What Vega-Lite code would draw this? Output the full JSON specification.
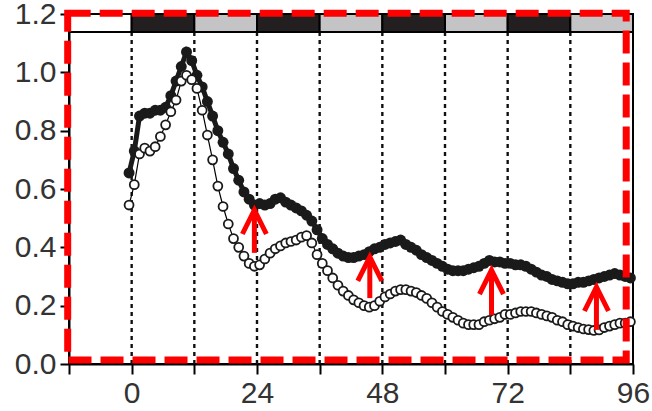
{
  "$schema": "https://vega.github.io/schema/vega-lite/v6.json",
  "width": 564,
  "height": 350,
  "autosize": {"type": "none"},
  "padding": {"left": 69, "top": 14, "right": 19, "bottom": 47},
  "background": "white",
  "config": {"view": {"stroke": "black", "strokeWidth": 2}},
  "datasets": {
    "series": [
      {"t": -0.5, "a": 0.655, "b": 0.545}, {"t": 0.5, "a": 0.73, "b": 0.615}, {"t": 1.5, "a": 0.85, "b": 0.72},
      {"t": 2.5, "a": 0.86, "b": 0.74}, {"t": 3.5, "a": 0.86, "b": 0.73}, {"t": 4.5, "a": 0.87, "b": 0.745},
      {"t": 5.5, "a": 0.87, "b": 0.78}, {"t": 6.5, "a": 0.88, "b": 0.82}, {"t": 7.5, "a": 0.92, "b": 0.865},
      {"t": 8.5, "a": 0.97, "b": 0.905}, {"t": 9.5, "a": 1.02, "b": 0.97}, {"t": 10.5, "a": 1.07, "b": 0.99},
      {"t": 11.5, "a": 1.04, "b": 0.975}, {"t": 12.5, "a": 0.99, "b": 0.945}, {"t": 13.5, "a": 0.95, "b": 0.87},
      {"t": 14.5, "a": 0.9, "b": 0.785}, {"t": 15.5, "a": 0.85, "b": 0.7}, {"t": 16.5, "a": 0.8, "b": 0.61},
      {"t": 17.5, "a": 0.76, "b": 0.54}, {"t": 18.5, "a": 0.72, "b": 0.48}, {"t": 19.5, "a": 0.67, "b": 0.43},
      {"t": 20.5, "a": 0.63, "b": 0.4}, {"t": 21.5, "a": 0.59, "b": 0.37}, {"t": 22.5, "a": 0.565, "b": 0.345},
      {"t": 23.5, "a": 0.545, "b": 0.335}, {"t": 24.5, "a": 0.55, "b": 0.34}, {"t": 25.5, "a": 0.545, "b": 0.36},
      {"t": 26.5, "a": 0.55, "b": 0.38}, {"t": 27.5, "a": 0.565, "b": 0.395}, {"t": 28.5, "a": 0.57, "b": 0.405},
      {"t": 29.5, "a": 0.555, "b": 0.415}, {"t": 30.5, "a": 0.545, "b": 0.42}, {"t": 31.5, "a": 0.535, "b": 0.425},
      {"t": 32.5, "a": 0.525, "b": 0.435}, {"t": 33.5, "a": 0.51, "b": 0.44}, {"t": 34.5, "a": 0.49, "b": 0.415},
      {"t": 35.5, "a": 0.46, "b": 0.375}, {"t": 36.5, "a": 0.43, "b": 0.345}, {"t": 37.5, "a": 0.41, "b": 0.32},
      {"t": 38.5, "a": 0.395, "b": 0.295}, {"t": 39.5, "a": 0.38, "b": 0.27}, {"t": 40.5, "a": 0.37, "b": 0.25},
      {"t": 41.5, "a": 0.365, "b": 0.235}, {"t": 42.5, "a": 0.365, "b": 0.22}, {"t": 43.5, "a": 0.37, "b": 0.21},
      {"t": 44.5, "a": 0.375, "b": 0.2}, {"t": 45.5, "a": 0.385, "b": 0.195}, {"t": 46.5, "a": 0.395, "b": 0.2},
      {"t": 47.5, "a": 0.4, "b": 0.215}, {"t": 48.5, "a": 0.41, "b": 0.23}, {"t": 49.5, "a": 0.415, "b": 0.24},
      {"t": 50.5, "a": 0.42, "b": 0.25}, {"t": 51.5, "a": 0.425, "b": 0.255}, {"t": 52.5, "a": 0.41, "b": 0.255},
      {"t": 53.5, "a": 0.4, "b": 0.25}, {"t": 54.5, "a": 0.39, "b": 0.245}, {"t": 55.5, "a": 0.375, "b": 0.235},
      {"t": 56.5, "a": 0.365, "b": 0.225}, {"t": 57.5, "a": 0.355, "b": 0.21}, {"t": 58.5, "a": 0.345, "b": 0.195},
      {"t": 59.5, "a": 0.335, "b": 0.18}, {"t": 60.5, "a": 0.325, "b": 0.17}, {"t": 61.5, "a": 0.32, "b": 0.16},
      {"t": 62.5, "a": 0.32, "b": 0.15}, {"t": 63.5, "a": 0.32, "b": 0.14}, {"t": 64.5, "a": 0.325, "b": 0.135},
      {"t": 65.5, "a": 0.33, "b": 0.135}, {"t": 66.5, "a": 0.335, "b": 0.135}, {"t": 67.5, "a": 0.345, "b": 0.145},
      {"t": 68.5, "a": 0.355, "b": 0.15}, {"t": 69.5, "a": 0.35, "b": 0.155}, {"t": 70.5, "a": 0.35, "b": 0.16},
      {"t": 71.5, "a": 0.345, "b": 0.17}, {"t": 72.5, "a": 0.345, "b": 0.17}, {"t": 73.5, "a": 0.34, "b": 0.175},
      {"t": 74.5, "a": 0.34, "b": 0.18}, {"t": 75.5, "a": 0.335, "b": 0.18}, {"t": 76.5, "a": 0.325, "b": 0.18},
      {"t": 77.5, "a": 0.315, "b": 0.175}, {"t": 78.5, "a": 0.305, "b": 0.17}, {"t": 79.5, "a": 0.3, "b": 0.165},
      {"t": 80.5, "a": 0.29, "b": 0.16}, {"t": 81.5, "a": 0.285, "b": 0.15}, {"t": 82.5, "a": 0.28, "b": 0.145},
      {"t": 83.5, "a": 0.275, "b": 0.135}, {"t": 84.5, "a": 0.275, "b": 0.13}, {"t": 85.5, "a": 0.28, "b": 0.125},
      {"t": 86.5, "a": 0.28, "b": 0.12}, {"t": 87.5, "a": 0.285, "b": 0.118}, {"t": 88.5, "a": 0.29, "b": 0.115},
      {"t": 89.5, "a": 0.295, "b": 0.117}, {"t": 90.5, "a": 0.3, "b": 0.125}, {"t": 91.5, "a": 0.305, "b": 0.13},
      {"t": 92.5, "a": 0.31, "b": 0.135}, {"t": 93.5, "a": 0.305, "b": 0.14}, {"t": 94.5, "a": 0.3, "b": 0.14},
      {"t": 95.5, "a": 0.295, "b": 0.145}
    ],
    "bar": [
      {"t": -12, "t2": 0, "v": 1.138, "v2": 1.2, "c": "light"},
      {"t": 0, "t2": 12, "v": 1.138, "v2": 1.2, "c": "dark"},
      {"t": 12, "t2": 24, "v": 1.138, "v2": 1.2, "c": "grey"},
      {"t": 24, "t2": 36, "v": 1.138, "v2": 1.2, "c": "dark"},
      {"t": 36, "t2": 48, "v": 1.138, "v2": 1.2, "c": "grey"},
      {"t": 48, "t2": 60, "v": 1.138, "v2": 1.2, "c": "dark"},
      {"t": 60, "t2": 72, "v": 1.138, "v2": 1.2, "c": "grey"},
      {"t": 72, "t2": 84, "v": 1.138, "v2": 1.2, "c": "dark"},
      {"t": 84, "t2": 96, "v": 1.138, "v2": 1.2, "c": "grey"}
    ],
    "grid": [
      {"t": 0, "v": 0, "v2": 1.138}, {"t": 12, "v": 0, "v2": 1.138}, {"t": 24, "v": 0, "v2": 1.138},
      {"t": 36, "v": 0, "v2": 1.138}, {"t": 48, "v": 0, "v2": 1.138}, {"t": 60, "v": 0, "v2": 1.138},
      {"t": 72, "v": 0, "v2": 1.138}, {"t": 84, "v": 0, "v2": 1.138}
    ],
    "arrows": [
      {"t": 23.5, "v": 0.528, "v2": 0.381},
      {"t": 45.6, "v": 0.367, "v2": 0.226},
      {"t": 68.9, "v": 0.322, "v2": 0.168},
      {"t": 89.0, "v": 0.264, "v2": 0.117}
    ],
    "box": [{"t": -12.25, "t2": 94.7, "v": 0.014, "v2": 1.203}]
  },
  "encoding": {
    "x": {
      "field": "t", "type": "quantitative",
      "scale": {"domain": [-12, 96], "nice": false, "zero": false},
      "axis": {
        "title": null, "grid": false,
        "values": [-12, 0, 12, 24, 36, 48, 60, 72, 84, 96],
        "labelExpr": "datum.value % 24 === 0 ? datum.label : ''",
        "format": "d",
        "tickSize": 10, "tickWidth": 2, "tickColor": "black",
        "domainColor": "black", "domainWidth": 2,
        "labelFont": "Liberation Sans", "labelFontSize": 30, "labelColor": "#333",
        "labelPadding": 4, "labelFlush": false, "labelOverlap": false
      }
    },
    "y": {
      "field": "v", "type": "quantitative",
      "scale": {"domain": [0, 1.2], "nice": false, "zero": false},
      "axis": {
        "title": null, "grid": false,
        "values": [0, 0.2, 0.4, 0.6, 0.8, 1.0, 1.2],
        "format": ".1f",
        "tickSize": 9, "tickWidth": 2, "tickColor": "black",
        "domainColor": "black", "domainWidth": 2,
        "labelFont": "Liberation Sans", "labelFontSize": 30, "labelColor": "#333",
        "labelPadding": 4, "labelFlush": false, "labelOverlap": false
      }
    }
  },
  "layer": [
    {
      "data": {"name": "grid"},
      "mark": {"type": "rule", "color": "#111", "strokeWidth": 2.4, "strokeDash": [4, 4]},
      "encoding": {"y2": {"field": "v2"}}
    },
    {
      "data": {"name": "bar"},
      "mark": {"type": "rect", "stroke": "black", "strokeWidth": 2},
      "encoding": {
        "x2": {"field": "t2"},
        "y2": {"field": "v2"},
        "fill": {"field": "c", "type": "nominal", "legend": null,
          "scale": {"domain": ["light", "dark", "grey"], "range": ["white", "#231f20", "#c4c4c6"]}}
      }
    },
    {
      "data": {"name": "series"},
      "transform": [{"fold": ["a", "b"], "as": ["s", "v"]}, {"filter": "datum.s === 'a'"}],
      "mark": {"type": "line", "color": "#1a1a1a", "strokeWidth": 5},
      "encoding": {}
    },
    {
      "data": {"name": "series"},
      "transform": [{"fold": ["a", "b"], "as": ["s", "v"]}, {"filter": "datum.s === 'a'"}],
      "mark": {"type": "point", "shape": "circle", "filled": true, "color": "#1a1a1a", "size": 120, "opacity": 1},
      "encoding": {}
    },
    {
      "data": {"name": "series"},
      "transform": [{"fold": ["a", "b"], "as": ["s", "v"]}, {"filter": "datum.s === 'b'"}],
      "mark": {"type": "line", "color": "black", "strokeWidth": 1.2},
      "encoding": {}
    },
    {
      "data": {"name": "series"},
      "transform": [{"fold": ["a", "b"], "as": ["s", "v"]}, {"filter": "datum.s === 'b'"}],
      "mark": {"type": "point", "shape": "circle", "filled": true, "fill": "white", "stroke": "#1a1a1a", "strokeWidth": 1.8, "size": 80, "opacity": 1},
      "encoding": {}
    },
    {
      "data": {"name": "arrows"},
      "mark": {"type": "rule", "color": "#ff0000", "strokeWidth": 5},
      "encoding": {"y2": {"field": "v2"}}
    },
    {
      "data": {"name": "arrows"},
      "mark": {"type": "point", "shape": "M-1,2L0,0L1,2", "filled": false, "fill": "transparent", "stroke": "#ff0000", "strokeWidth": 5, "size": 576, "opacity": 1, "strokeJoin": "miter"},
      "encoding": {}
    },
    {
      "data": {"name": "box"},
      "mark": {"type": "rect", "fill": "transparent", "stroke": "#ff0000", "strokeWidth": 7, "strokeDash": [23, 9]},
      "encoding": {"x2": {"field": "t2"}, "y2": {"field": "v2"}}
    }
  ]
}
